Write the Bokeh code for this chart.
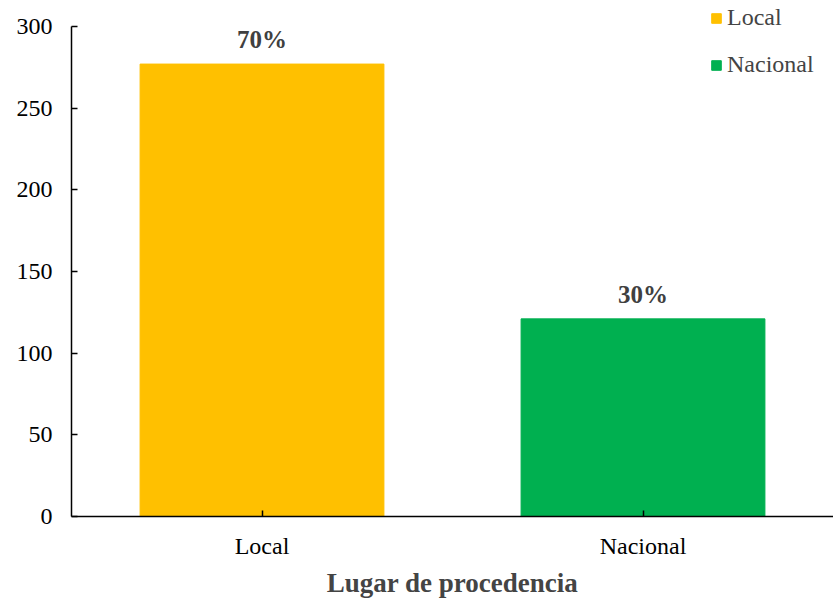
from bokeh.plotting import figure
from bokeh.models import ColumnDataSource, Legend, LegendItem, LabelSet, Range1d, FixedTicker
from bokeh.embed import file_html
from bokeh.resources import INLINE

categories = ["Local", "Nacional"]
values = [277, 121]
percent_labels = ["70%", "30%"]
colors = ["#FFC000", "#00B050"]
y_ticks = [0, 50, 100, 150, 200, 250, 300]
y_max = 300

FONT = "Liberation Serif"

# frame extends a little above the 300 line so the legend (drawn above it) is not clipped
frame_top = 4
frame_bottom = 516
axis_top_px = 26
y_end = y_max * (frame_bottom - frame_top) / (frame_bottom - axis_top_px)

src = ColumnDataSource(dict(cat=categories, val=values, lab=percent_labels, col=colors))

p = figure(x_range=categories, y_range=Range1d(0, y_end), width=833, height=600,
           output_backend="svg", toolbar_location=None,
           min_border_left=71, min_border_right=0, min_border_top=frame_top,
           min_border_bottom=600 - frame_bottom)
p.x_range.range_padding = 0
p.outline_line_color = None
p.grid.grid_line_color = None
p.background_fill_color = "white"

r = p.vbar(x="cat", top="val", width=0.64, color="col", source=src)

labels = LabelSet(x="cat", y="val", text="lab", source=src, text_align="center",
                  text_baseline="bottom", y_offset=11, text_font=FONT,
                  text_font_size="25px", text_font_style="bold", text_color="#404040")
p.add_layout(labels)

p.yaxis.ticker = FixedTicker(ticks=y_ticks)
p.yaxis.bounds = (0, y_max)
for ax in (p.xaxis[0], p.yaxis[0]):
    ax.axis_line_color = "black"
    ax.axis_line_width = 1.5
    ax.major_tick_line_color = "black"
    ax.major_tick_line_width = 1.5
    ax.major_tick_in = 6
    ax.major_tick_out = 0
    ax.minor_tick_line_color = None
    ax.major_label_text_font = FONT
    ax.major_label_text_font_size = "24px"
    ax.major_label_text_color = "black"
p.yaxis.major_label_standoff = 19
p.xaxis.major_label_standoff = 16

p.xaxis.axis_label = "Lugar de procedencia"
p.xaxis.axis_label_text_font = FONT
p.xaxis.axis_label_text_font_size = "27px"
p.xaxis.axis_label_text_font_style = "bold"
p.xaxis.axis_label_standoff = 6

items = [LegendItem(label=categories[i], renderers=[r], index=i) for i in range(len(categories))]
legend = Legend(items=items, location=(639, 438), orientation="vertical",
                label_text_font=FONT, label_text_font_size="24px",
                glyph_width=12, glyph_height=12, spacing=20, label_standoff=5,
                border_line_color=None, background_fill_alpha=0, padding=0, margin=0)
p.add_layout(legend)

open("out.html", "w").write(file_html(p, INLINE))
